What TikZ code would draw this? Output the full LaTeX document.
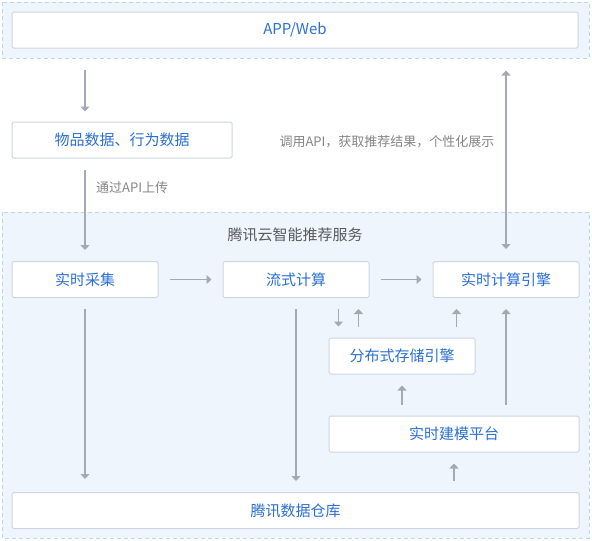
\documentclass[tikz,border=0pt]{standalone}
\usepackage{fontspec}
\setmainfont{Noto Sans CJK SC}
\usetikzlibrary{arrows.meta, positioning}
\definecolor{regionfill}{HTML}{EEF5FD}
\definecolor{regionline}{HTML}{B9D7F5}
\definecolor{boxline}{HTML}{CDD4E2}
\definecolor{boxtext}{HTML}{2A6FD5}
\definecolor{arrgray}{HTML}{A3AAB6}
\definecolor{labelgray}{HTML}{858585}
\tikzset{
	x=1pt, y=-1pt,
	region/.style={draw=regionline, fill=regionfill, line width=1pt, dash pattern=on 4pt off 3pt},
	box/.style={draw=boxline, fill=white, line width=1pt, rounded corners=1.5pt,
		minimum height=36pt, inner sep=0pt, text=boxtext, font=\fontsize{15}{17}\selectfont},
	lbl/.style={text=labelgray, font=\fontsize{13}{15}\selectfont, inner sep=0pt},
	arr/.style={draw=arrgray, line width=1.1pt, -{Triangle[width=9pt,length=5pt]},
		shorten <=11pt, shorten >=11pt}}

\begin{document}
\begin{tikzpicture}
		\useasboundingbox (0,0) rectangle (592,541);
		
		% regions
		\draw[region] (2,2) rectangle (589,58);
		\draw[region] (2,212) rectangle (589,538);
		\node[text=black!65, font=\fontsize{15}{17}\selectfont] (title) at (295,235) {腾讯云智能推荐服务};
		
		% boxes
		\node[box, minimum width=566pt] (app) at (295,30) {APP/Web};
		\node[box, minimum width=220pt] (items) at (122,140) {物品数据、行为数据};
		\node[box, minimum width=146pt] (collect) at (85,279.5) {实时采集};
		\node[box, minimum width=146pt] (stream) at (296,279.5) {流式计算};
		\node[box, minimum width=146pt] (engine) at (506,279.5) {实时计算引擎};
		\node[box, minimum width=146pt] (storage) at (402,356) {分布式存储引擎};
		\node[box, minimum width=250pt] (model) at (454,434) {实时建模平台};
		\node[box, minimum width=567pt] (warehouse) at (295.5,510.5) {腾讯数据仓库};
		
		% labels
		\node[lbl, anchor=west] (upload) at (96,188) {通过API上传};
		\node[lbl] (callapi) at (387,142) {调用API，获取推荐结果，个性化展示};
		
		\draw 
		(collect.north |- app.south) edge[arr, shorten <=21pt, shorten >=10pt] (collect.north |- items.north)
		(collect.north |- items.south) edge[arr] (collect.north)
		(engine.north) edge[arr, {Triangle[width=9pt,length=5pt]}-{Triangle[width=9pt,length=5pt]}, shorten <=12pt, shorten >=22pt] (engine.north |- app.south)
		(collect.east) edge[arr] (stream.west)
		(stream.east) edge[arr] (engine.west)
		(collect.south) edge[arr, shorten >=13pt] (collect.south |- warehouse.north)
		(stream.south) edge[arr] (stream.south |- warehouse.north)
		([xshift=10pt]storage.north west |- stream.south) edge[arr] ([xshift=10pt]storage.north west)
		([xshift=30pt]storage.north west) edge[arr] ([xshift=30pt]storage.north west |- stream.south)
		([xshift=24pt]engine.south west |- storage.north) edge[arr] ([xshift=24pt]engine.south west)
		(engine.south |- model.north) edge[arr] (engine.south)
		(storage.south |- model.north) edge[arr] (storage.south)
		(model.south |- warehouse.north) edge[arr] (model.south)
		;
	\end{tikzpicture}
\end{document}
